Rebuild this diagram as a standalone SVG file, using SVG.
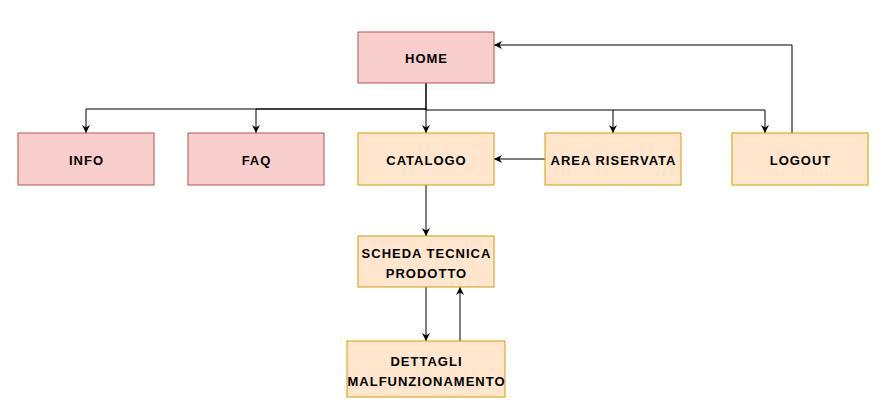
<svg xmlns="http://www.w3.org/2000/svg" width="891" height="412" viewBox="0 0 891 412">
<style>
.red{fill:#f8cecc;stroke:#b85450;stroke-width:1}
.org{fill:#ffe6cc;stroke:#d79b00;stroke-width:1}
text{font-family:"Liberation Sans",Arial,sans-serif;font-size:13px;letter-spacing:1px;font-weight:bold;fill:#000;text-anchor:middle;dominant-baseline:central}
.c{fill:none;stroke:#000;stroke-width:1}
</style>
<defs>
<marker id="a" viewBox="0 0 10 10" refX="10" refY="5" markerWidth="8" markerHeight="8" markerUnits="userSpaceOnUse" orient="auto">
<path d="M0,0 L10,5 L0,10 L3,5 Z" fill="#000"/>
</marker>
</defs>
<rect width="891" height="412" fill="#fff"/>
<g id="connectors">
<path class="c" d="M426,83 V109 H86 V133" marker-end="url(#a)"/>
<path class="c" d="M426,109 H256 V133" marker-end="url(#a)"/>
<path class="c" d="M426,109 V133" marker-end="url(#a)"/>
<path class="c" d="M426,83 V110 H613 V133" marker-end="url(#a)"/>
<path class="c" d="M613,110 H765 V133" marker-end="url(#a)"/>
<path class="c" d="M792,133 V45 H494" marker-end="url(#a)"/>
<path class="c" d="M545,159 H494" marker-end="url(#a)"/>
<path class="c" d="M426,185 V236" marker-end="url(#a)"/>
<path class="c" d="M426,287 V341" marker-end="url(#a)"/>
<path class="c" d="M460,341 V287" marker-end="url(#a)"/>
</g>
<g id="home"><rect class="red" x="358" y="32" width="136" height="51"/><text x="426.5" y="58">HOME</text></g>
<g id="info"><rect class="red" x="18" y="133" width="136" height="52"/><text x="86.5" y="160">INFO</text></g>
<g id="faq"><rect class="red" x="188" y="133" width="136" height="52"/><text x="256.5" y="160">FAQ</text></g>
<g id="catalogo"><rect class="org" x="358" y="133" width="136" height="52"/><text x="426.5" y="160">CATALOGO</text></g>
<g id="area"><rect class="org" x="545" y="133" width="136" height="52"/><text x="613.5" y="160">AREA RISERVATA</text></g>
<g id="logout"><rect class="org" x="732" y="133" width="136" height="52"/><text x="800.5" y="160">LOGOUT</text></g>
<g id="scheda"><rect class="org" x="358" y="236" width="136" height="51"/><text x="426.5" y="253">SCHEDA TECNICA</text><text x="426.5" y="273">PRODOTTO</text></g>
<g id="dettagli"><rect class="org" x="347" y="341" width="158" height="56"/><text x="426.5" y="361">DETTAGLI</text><text x="426.5" y="381">MALFUNZIONAMENTO</text></g>
</svg>
